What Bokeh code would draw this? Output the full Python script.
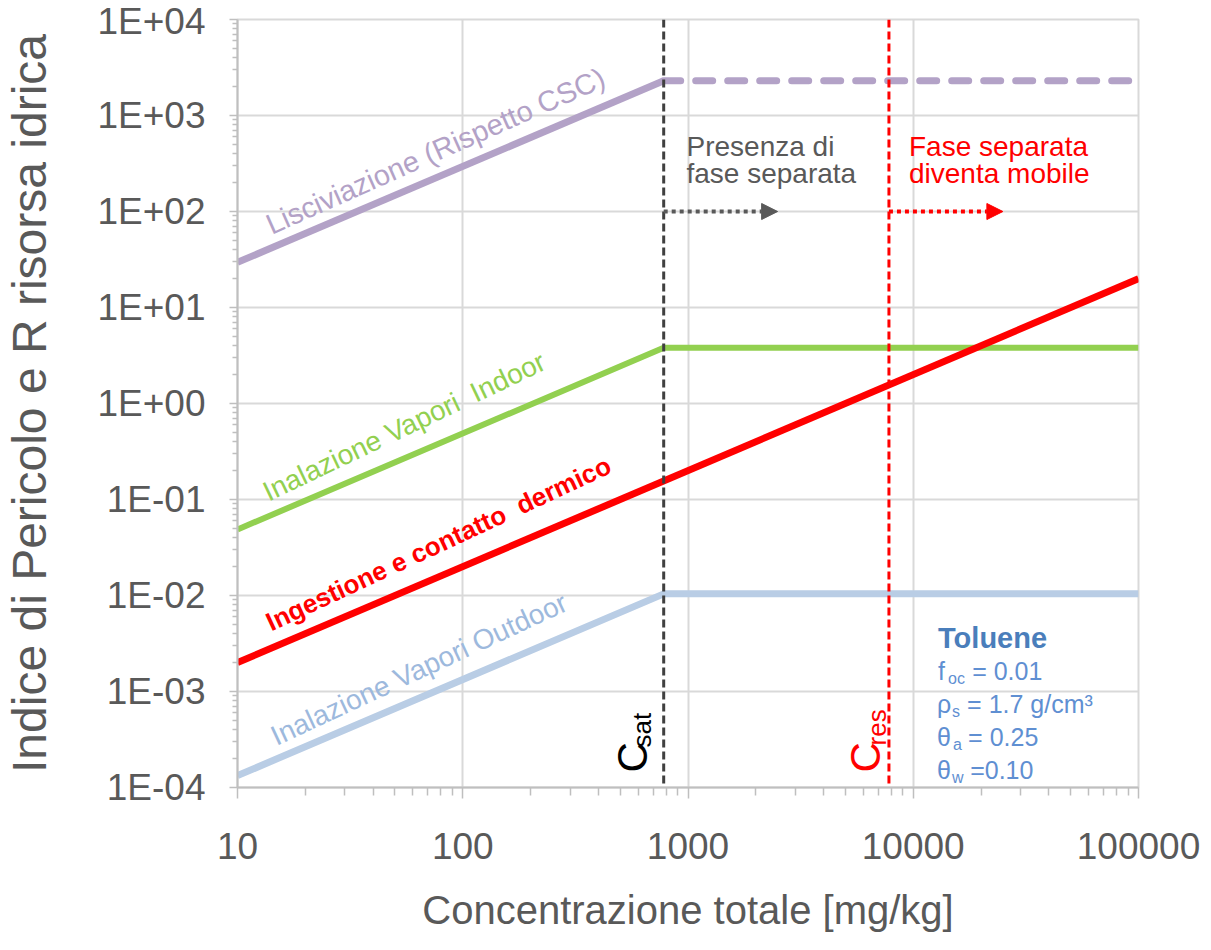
import math
from bokeh.plotting import figure
from bokeh.models import FixedTicker, CustomJSTickFormatter, Span, Arrow, NormalHead
from bokeh.core.properties import value
from bokeh.embed import file_html
from bokeh.resources import INLINE

# ---------------- data ----------------
X_TICKS = [10, 100, 1000, 10000, 100000]
X_TICK_LABELS = ["10", "100", "1000", "10000", "100000"]
Y_TICKS = [1e-4, 1e-3, 1e-2, 1e-1, 1e0, 1e1, 1e2, 1e3, 1e4]
Y_TICK_LABELS = ["1E-04", "1E-03", "1E-02", "1E-01", "1E+00", "1E+01", "1E+02", "1E+03", "1E+04"]

C_SAT = 780
C_RES = 7800

lisc_x = [10, 780]
lisc_y = [29.5, 2300]
lisc_sat_x = [780, 100000]
lisc_sat_y = [2300, 2300]

indoor_x = [10, 780, 100000]
indoor_y = [0.0487, 3.8, 3.8]

ingest_x = [10, 100000]
ingest_y = [0.002, 20]

outdoor_x = [10, 780, 100000]
outdoor_y = [1.33e-4, 0.0104, 0.0104]

arrow_y = 100
arrow_sat_end = 2500
arrow_res_end = 25000

# ---------------- figure ----------------
FONT = "Liberation Sans"
GRAY = "#595959"

p = figure(width=1200, height=934, x_axis_type="log", y_axis_type="log",
           x_range=(10, 100000), y_range=(1e-4, 1e4),
           output_backend="svg", toolbar_location=None,
           min_border_left=234, min_border_top=19, min_border_right=62, min_border_bottom=147)
p.background_fill_color = "white"
p.border_fill_color = "white"
p.outline_line_color = "#D9D9D9"
p.outline_line_width = 2

minor_x = [k * 10 ** n for n in range(1, 5) for k in range(2, 10)]
minor_y = [k * 10.0 ** n for n in range(-4, 4) for k in range(2, 10)]
p.xaxis.ticker = FixedTicker(ticks=X_TICKS, minor_ticks=minor_x)
p.yaxis.ticker = FixedTicker(ticks=Y_TICKS, minor_ticks=minor_y)

fmt_code = """
const lt = Math.log10(tick);
for (let i = 0; i < tvals.length; i++) {
  if (Math.abs(Math.log10(tvals[i]) - lt) < 1e-6) return tlabels[i];
}
return '';
"""
p.xaxis.formatter = CustomJSTickFormatter(args=dict(tvals=X_TICKS, tlabels=X_TICK_LABELS), code=fmt_code)
p.yaxis.formatter = CustomJSTickFormatter(args=dict(tvals=Y_TICKS, tlabels=Y_TICK_LABELS), code=fmt_code)

p.grid.grid_line_color = "#D9D9D9"
p.grid.grid_line_width = 2

for ax in (p.xaxis, p.yaxis):
    ax.axis_line_color = "#BFBFBF"
    ax.axis_line_width = 2
    ax.major_tick_line_color = "#BFBFBF"
    ax.minor_tick_line_color = "#BFBFBF"
    ax.major_tick_line_width = 1.5
    ax.minor_tick_line_width = 1.5
    ax.major_tick_in = 0
    ax.minor_tick_in = 0
    ax.major_label_text_font = FONT
    ax.major_label_text_font_size = "37px"
    ax.major_label_text_color = GRAY
    ax.axis_label_text_font = FONT
    ax.axis_label_text_font_style = "normal"
    ax.axis_label_text_color = GRAY

p.xaxis.major_tick_out = 11
p.xaxis.minor_tick_out = 8
p.xaxis.major_label_standoff = 34
p.xaxis.axis_label = "Concentrazione totale [mg/kg]"
p.xaxis.axis_label_text_font_size = "40px"
p.xaxis.axis_label_standoff = 26

p.yaxis.major_tick_out = 8
p.yaxis.minor_tick_out = 5
p.yaxis.major_label_standoff = 24
p.yaxis.axis_label = "Indice di Pericolo e R risorsa idrica"
p.yaxis.axis_label_text_font_size = "48px"
p.yaxis.axis_label_standoff = 38

# ---------------- series ----------------
PURPLE = "#B3A2C7"
GREEN = "#92D050"
RED = "#FF0000"
LBLUE = "#B9CDE5"

p.line(lisc_x, lisc_y, line_color=PURPLE, line_width=7)
p.line(lisc_sat_x, lisc_sat_y, line_color=PURPLE, line_width=7, line_dash="17 15", line_cap="round")
p.line(indoor_x, indoor_y, line_color=GREEN, line_width=6)
p.line(outdoor_x, outdoor_y, line_color=LBLUE, line_width=7)
p.line(ingest_x, ingest_y, line_color=RED, line_width=7)

p.add_layout(Span(location=C_SAT, dimension="height", line_color="#404040",
                  line_width=3, line_dash="8 4"))
p.add_layout(Span(location=C_RES, dimension="height", line_color=RED,
                  line_width=3, line_dash="8 4"))

p.add_layout(Arrow(end=NormalHead(size=16, fill_color=GRAY, line_color=GRAY, line_width=1),
                   x_start=C_SAT, y_start=arrow_y, x_end=arrow_sat_end, y_end=arrow_y,
                   line_color=GRAY, line_width=4, line_dash="4 4"))
p.add_layout(Arrow(end=NormalHead(size=16, fill_color=RED, line_color=RED, line_width=1),
                   x_start=C_RES, y_start=arrow_y, x_end=arrow_res_end, y_end=arrow_y,
                   line_color=RED, line_width=4, line_dash="4 4"))

# ---------------- annotations (positions in reference pixels -> data) ----------------
def dx(px):
    return 10 ** (1 + (px - 239) / 224.75)

def dy(py):
    return 10 ** (4 - (py - 25) / 95.875)

def label(px, py, txt, size, color, angle=0.0, bold=False):
    p.text(x=[dx(px)], y=[dy(py)], text=[txt], angle=math.radians(angle),
           text_font=value(FONT), text_font_size=value(f"{size}px"),
           text_font_style="bold" if bold else "normal",
           text_color=color, text_align="left", text_baseline="alphabetic")

label(269, 231, "Lisciviazione (Rispetto CSC)", 29, PURPLE, 24)
label(266, 498, "Inalazione Vapori \u00a0Indoor", 28, GREEN, 25.5)
label(269, 628, "Ingestione e contatto \u00a0dermico", 26, RED, 25, bold=True)
label(274, 742, "Inalazione Vapori Outdoor", 28, "#9DB9DD", 25)

label(687, 152, "Presenza di", 28, GRAY)
label(687, 179, "fase separata", 28, GRAY)
label(909, 152, "Fase separata", 28, RED)
label(909, 179, "diventa mobile", 28, RED)

label(633, 777, "C", 42, "#000000", 90)
label(643, 752, "sat", 26, "#000000", 90)
label(866, 777, "C", 42, RED, 90)
label(877, 750, "res", 26, RED, 90)

TBLUE = "#4A7EBB"
PBLUE = "#5F8FD2"
label(938, 643, "Toluene", 29, TBLUE, bold=True)
label(938, 676, "f", 25, PBLUE)
label(948, 683, "oc", 16, PBLUE)
label(972, 676, "= 0.01", 25, PBLUE)
label(937, 709, "ρ", 25, PBLUE)
label(952, 716, "s", 16, PBLUE)
label(967, 709, "= 1.7 g/cm³", 25, PBLUE)
label(937, 742, "θ", 25, PBLUE)
label(953, 749, "a", 16, PBLUE)
label(968, 742, "= 0.25", 25, PBLUE)
label(937, 775, "θ", 25, PBLUE)
label(952, 782, "w", 16, PBLUE)
label(970, 775, "=0.10", 25, PBLUE)

open("out.html", "w").write(file_html(p, INLINE))
